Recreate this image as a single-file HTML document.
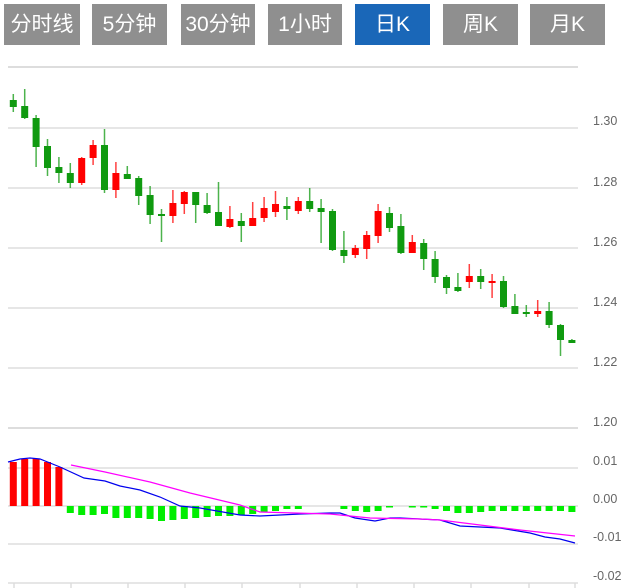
<!DOCTYPE html>
<html><head><meta charset="utf-8"><style>
body{margin:0;width:632px;height:588px;background:#fff;overflow:hidden;font-family:"Liberation Sans","Noto Sans CJK SC",sans-serif}
.b{position:absolute;top:4px;height:41px;background:#8f8f8f;color:#fff;font-size:21px;line-height:41px;text-align:center}
.a{background:#1a67b8}
svg{position:absolute;left:0;top:0}
</style></head><body>
<div class="b" style="left:4px;width:76px">分时线</div>
<div class="b" style="left:92px;width:75px">5分钟</div>
<div class="b" style="left:181px;width:74px">30分钟</div>
<div class="b" style="left:268px;width:74px">1小时</div>
<div class="b a" style="left:355px;width:75px">日K</div>
<div class="b" style="left:443px;width:75px">周K</div>
<div class="b" style="left:530px;width:75px">月K</div>
<svg width="632" height="588" font-family="Liberation Sans" font-size="12.5" fill="#666">
<g stroke="#ddd" stroke-width="1.5">
<line x1="8" x2="578" y1="67" y2="67" stroke-width="2"/>
<line x1="8" x2="578" y1="128" y2="128"/>
<line x1="8" x2="578" y1="188" y2="188"/>
<line x1="8" x2="578" y1="248" y2="248"/>
<line x1="8" x2="578" y1="308" y2="308"/>
<line x1="8" x2="578" y1="368" y2="368"/>
<line x1="8" x2="578" y1="428" y2="428" stroke-width="2"/>
<line x1="8" x2="578" y1="468" y2="468"/>
<line x1="8" x2="578" y1="506" y2="506"/>
<line x1="8" x2="578" y1="544" y2="544"/>
<line x1="8" x2="578" y1="583" y2="583"/>
<path d="M14 583v5M71 583v5M128 583v5M185 583v5M242 583v5M300 583v5M357 583v5M414 583v5M471 583v5M529 583v5M575 583v5"/>
</g>
<text x="593" y="125">1.30</text><text x="593" y="186">1.28</text><text x="593" y="246">1.26</text>
<text x="593" y="306">1.24</text><text x="593" y="366">1.22</text><text x="593" y="426">1.20</text>
<text x="593" y="465">0.01</text><text x="593" y="503">0.00</text><text x="593" y="541">-0.01</text><text x="593" y="580">-0.02</text>
<g id="c"></g>
<g id="h"></g>
<polyline fill="none" stroke="#0000ee" stroke-width="1.2" points="8,462 20,459 30,458 40,459 60,467 84,478 105,481 120,486 140,490 160,497 180,506 200,508 240,515 260,516 300,514 330,513 340,513 355,518 375,521 390,518 400,518 440,520 460,526 500,528 530,533 545,537 560,539 575,543"/>
<polyline fill="none" stroke="#ff00ff" stroke-width="1.2" points="71,465 105,472 150,482 190,493 240,505 260,512 330,514 370,518 420,519 440,520 480,525 520,530 575,536"/>
</svg>
<script>
var C=[["G",100,107,94,112],["G",106,118,89,119],["G",118,147,115,167],["G",146,168,139,176],["G",167,173,157,183],["G",173,183,163,188],["R",158,183,157,185],["R",145,158,140,165],["G",145,190,129,193],["R",173,190,162,198],["G",174,179,166,179],["G",178,196,176,205],["G",195,215,186,224],["G",214,216,209,242],["R",203,216,190,223],["R",192,204,191,214],["G",192,205,192,223],["G",205,213,193,214],["G",212,226,182,226],["R",219,227,206,228],["G",221,226,213,242],["R",218,226,202,226],["R",208,218,197,222],["R",204,212,191,217],["G",206,209,197,220],["R",201,211,197,214],["G",201,209,188,212],["G",208,212,199,243],["G",211,250,209,251],["G",250,256,231,263],["R",248,255,245,258],["R",235,249,231,259],["R",211,236,204,243],["G",213,228,207,232],["G",226,253,214,254],["R",242,253,235,253],["G",243,259,239,270],["G",259,277,251,283],["G",277,288,275,294],["G",287,291,273,292],["R",276,282,264,288],["G",276,282,269,289],["R",281,283,274,298],["G",281,307,276,308],["G",306,314,294,314],["G",312,314,305,317],["R",311,314,300,317],["G",311,325,302,328],["G",325,340,324,356],["G",340,343,339,343]];
var H={0:462,1:459,2:459,3:462,4:467,5:513,6:515,7:515,8:514,9:518,10:518,11:518,12:519,13:521,14:520,15:519,16:518,17:517,18:516,19:516,20:515,21:514,22:512,23:511,24:509,25:509,29:509,30:511,31:512,32:511,33:507,35:507,36:507,37:509,38:511,39:513,40:513,41:512,42:511,43:511,44:511,45:511,46:511,47:511,48:511,49:512};
var s="",t="";
C.forEach(function(c,i){var x=9.8+11.4*i,col=c[0]=="R"?"#f00":"#109a10";
s+='<line x1="'+(x+3.5)+'" x2="'+(x+3.5)+'" y1="'+c[3]+'" y2="'+c[4]+'" stroke="'+col+'" stroke-width="1.5" stroke-opacity="0.75"/>';
s+='<rect x="'+x+'" y="'+c[1]+'" width="7" height="'+Math.max(1.5,c[2]-c[1])+'" fill="'+col+'"/>';});
for(var k in H){var i=+k,x=9.8+11.4*i,y=H[k];if(y<506)t+='<rect x="'+x+'" y="'+y+'" width="7" height="'+(506-y)+'" fill="#f00"/>';else t+='<rect x="'+x+'" y="506" width="7" height="'+Math.max(1.5,y-506)+'" fill="#00ee00"/>';}
document.getElementById("c").innerHTML=s;document.getElementById("h").innerHTML=t;
</script>
</body></html>
